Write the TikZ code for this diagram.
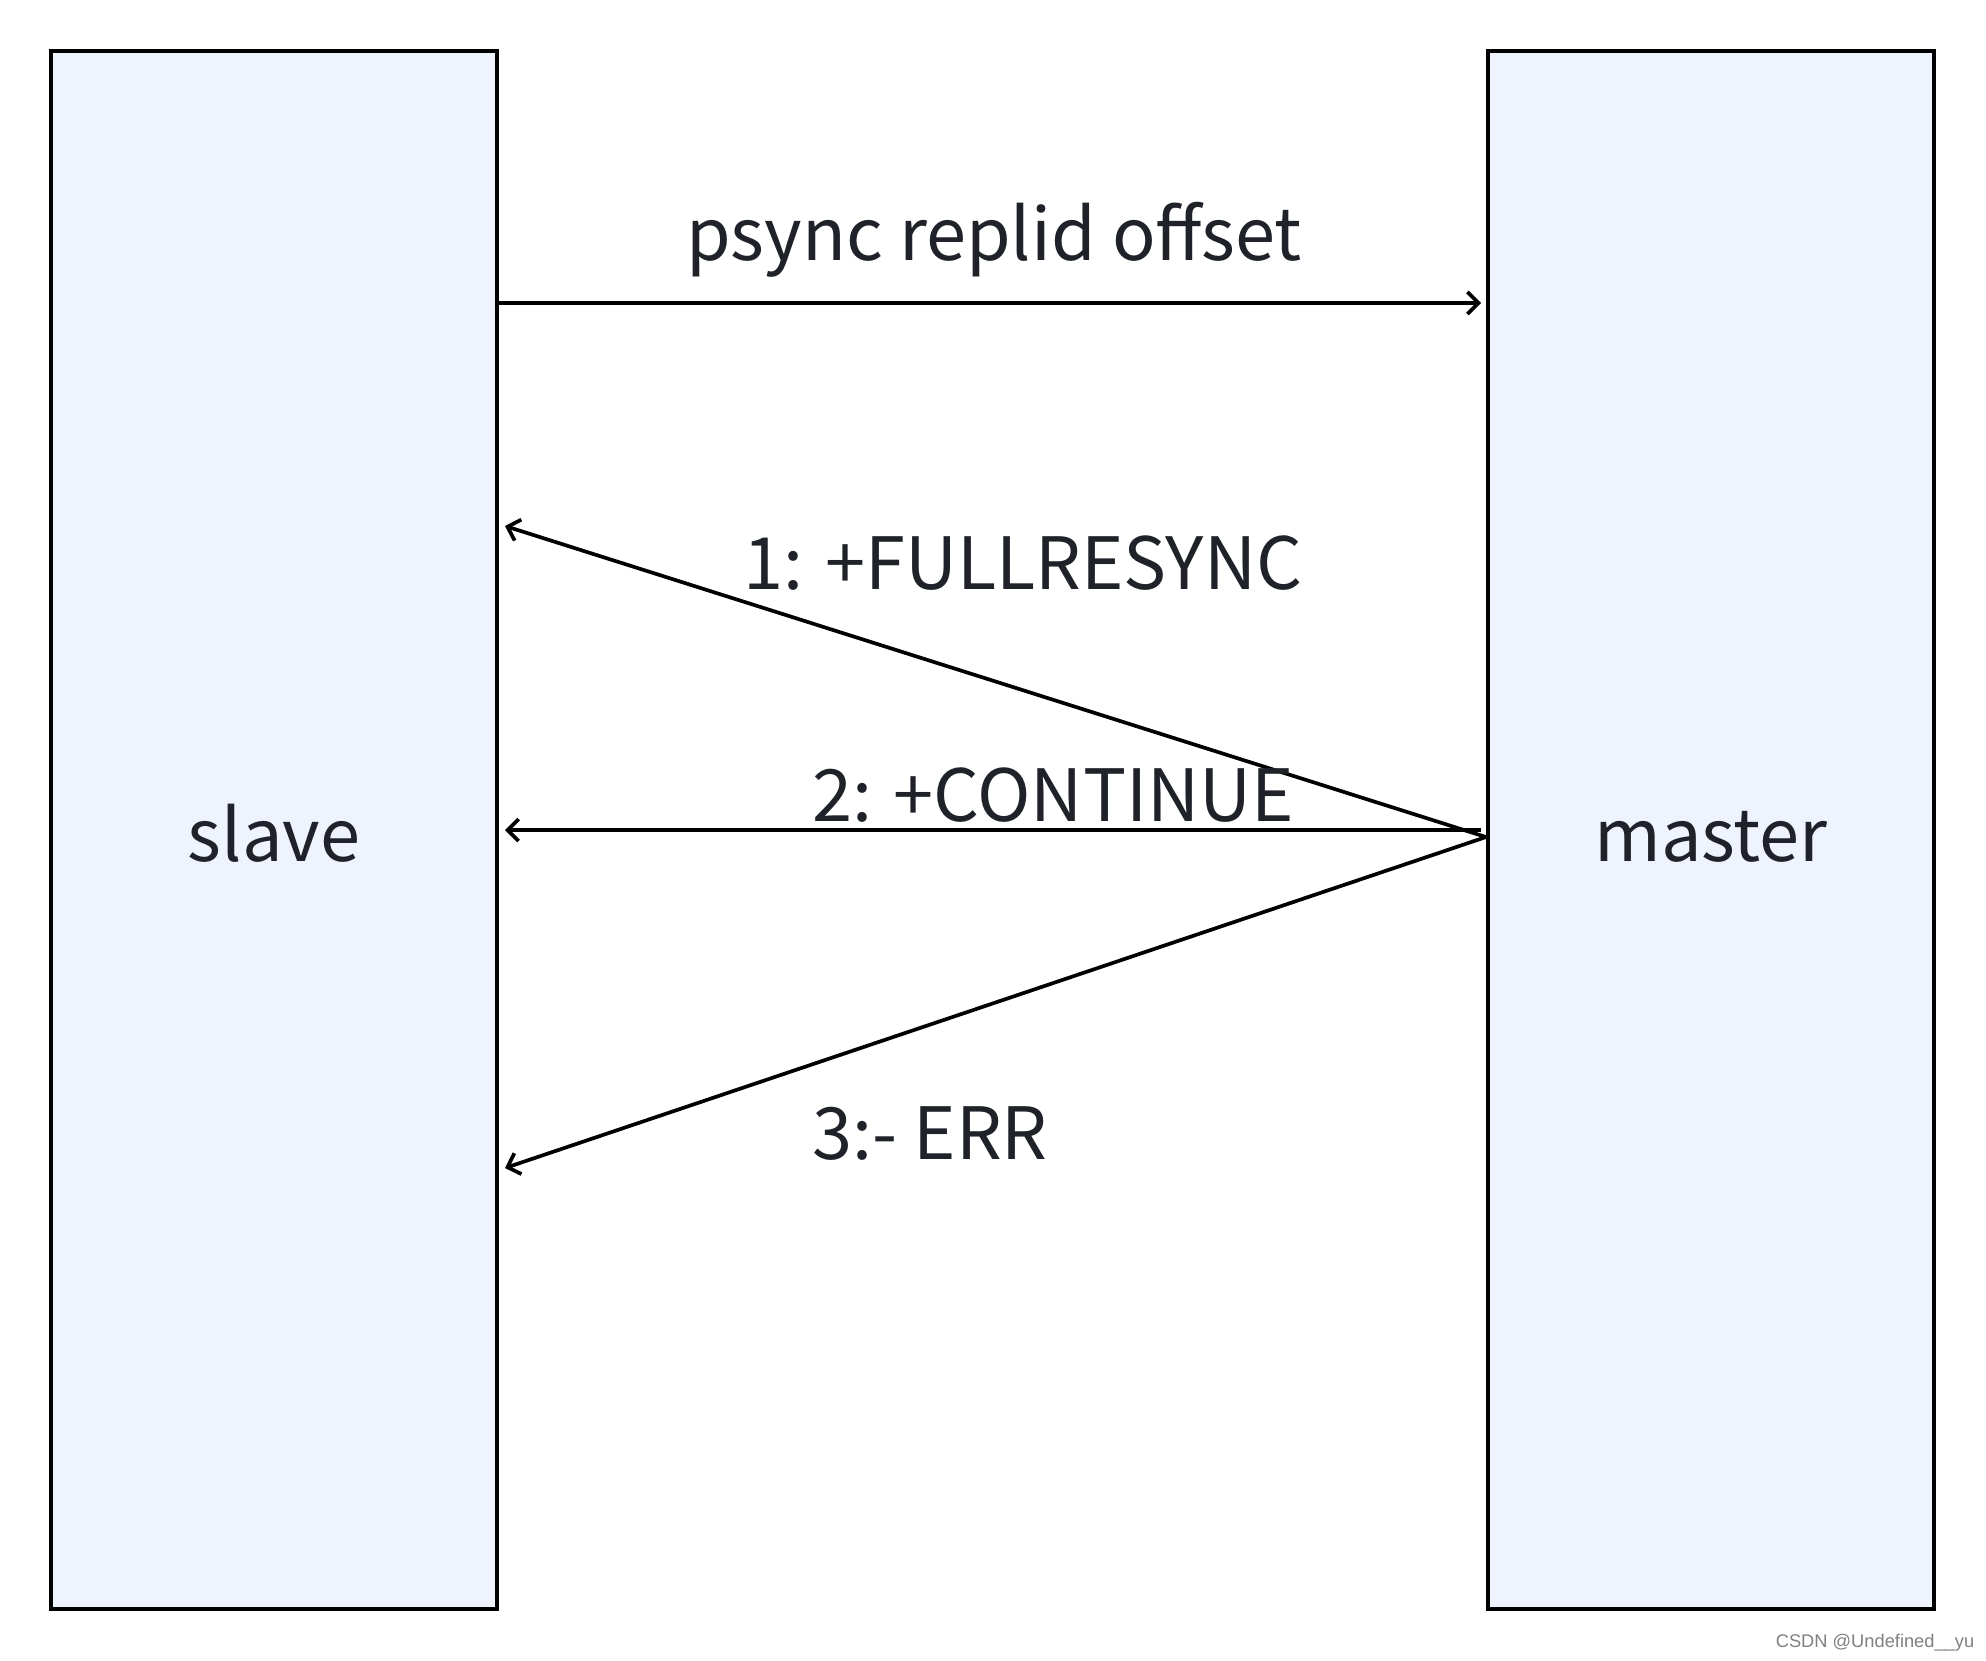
\documentclass[tikz,border=0pt]{standalone}
\usepackage{fontspec}
\setmainfont{Noto Sans CJK SC}
\newfontfamily\markfont{Liberation Sans}
\usetikzlibrary{arrows.meta}
\definecolor{boxblue}{HTML}{EEF3FD}
\definecolor{inkgray}{HTML}{1F2329}

\begin{document}
\begin{tikzpicture}[x=0.01cm,y=-0.01cm,
    party/.style={draw=black,fill=boxblue,line width=1.25pt,minimum width=4.46cm,
        minimum height=15.57cm,inner sep=0pt,text=inkgray,font=\fontsize{20.5pt}{25pt}\selectfont},
    msg/.style={line width=1.05pt,-{Straight Barb[length=0.11cm,width=0.22cm,line width=1.05pt]}},
    lbl/.style={anchor=base,inner sep=0pt,text=inkgray,font=\fontsize{20.5pt}{25pt}\selectfont}]
\useasboundingbox (0,0) rectangle (1986,1660);

\node[party] (slave) at (274,830) {};
\node[party] (master) at (1711,830) {};
\node[lbl] (slavetxt) at (274,861) {slave};
\node[lbl] (mastertxt) at (1711,861) {master};

\coordinate (psyncfrom) at (499,303);
\coordinate (psyncto) at (1481,303);
\coordinate (fork) at (1486,837);
\coordinate (contfrom) at (1481,830);
\coordinate (fullto) at (505,526);
\coordinate (contto) at (505,830);
\coordinate (errto) at (505,1168);

\draw[msg] (psyncfrom)--(psyncto);
\node[lbl] (psynclbl) at (994,260) {psync replid offset};

\draw[msg] (fork)--(fullto);
\node[lbl] (fulllbl) at (1023,589) {1: +FULLRESYNC};

\draw[msg] (contfrom)--(contto);
\node[lbl] (contlbl) at (1053,821) {2: +CONTINUE};

\draw[msg] (fork)--(errto);
\node[lbl] (errlbl) at (930,1159) {3:- ERR};

\node[anchor=base,inner sep=0pt,text=gray,font=\markfont\fontsize{5.2pt}{6pt}\selectfont] (mark) at (1875,1647) {CSDN @Undefined\_\_yu};
\end{tikzpicture}
\end{document}
